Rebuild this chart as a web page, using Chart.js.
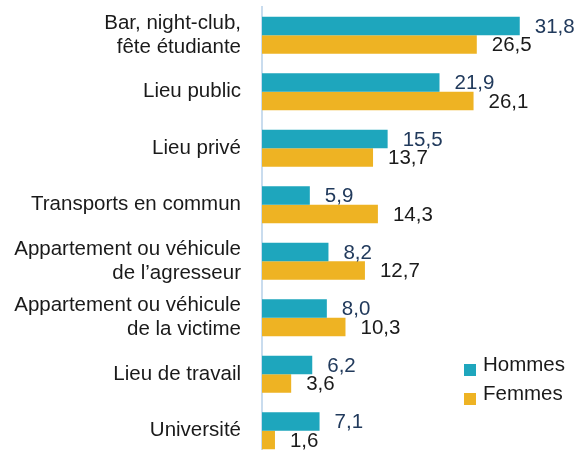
<!DOCTYPE html>
<html>
    <head>
        <title>Lieux</title>
        <meta charset="utf-8">
        <style>
            html, body { margin: 0; padding: 0; background: #fff; overflow: hidden; }
            .chart-box { position: relative; width: 579px; height: 460px; }
        </style>
    </head>
    <body>
        <div class="chart-box">
            <canvas id="lieuxChart"></canvas>
        </div>
        <script src="https://cdn.jsdelivr.net/npm/chart.js"></script>
        <script>
            const categories = [
                ['Bar, night-club,', 'fête étudiante'],
                'Lieu public',
                'Lieu privé',
                'Transports en commun',
                ['Appartement ou véhicule', 'de l’agresseur'],
                ['Appartement ou véhicule', 'de la victime'],
                'Lieu de travail',
                'Université'
            ];
            const hommes = [31.8, 21.9, 15.5, 5.9, 8.2, 8.0, 6.2, 7.1];
            const femmes = [26.5, 26.1, 13.7, 14.3, 12.7, 10.3, 3.6, 1.6];

            const FONT = "'Liberation Sans', Arial, sans-serif";

            // value labels at the end of each bar + legend in the lower right
            const labelsPlugin = {
                id: 'valueLabels',
                afterDatasetsDraw(chart) {
                    const ctx = chart.ctx;
                    const colors = ['#213a5c', '#1a1a1a'];
                    ctx.save();
                    ctx.font = '20.5px ' + FONT;
                    ctx.textBaseline = 'middle';
                    ctx.textAlign = 'left';
                    chart.data.datasets.forEach((ds, i) => {
                        const meta = chart.getDatasetMeta(i);
                        ctx.fillStyle = colors[i];
                        meta.data.forEach((bar, j) => {
                            const txt = ds.data[j].toFixed(1).replace('.', ',');
                            ctx.fillText(txt, bar.x + 15, bar.y + 1);
                        });
                    });

                    // legend
                    const lx = 464, ly = [365, 394];
                    chart.data.datasets.forEach((ds, i) => {
                        ctx.fillStyle = ds.backgroundColor;
                        ctx.fillRect(lx, ly[i] - 1, 12, 12);
                        ctx.fillStyle = '#1a1a1a';
                        ctx.fillText(ds.label, lx + 19, ly[i]);
                    });
                    ctx.restore();
                }
            };

            const chart = new Chart(document.getElementById('lieuxChart'), {
                type: 'bar',
                data: {
                    labels: categories,
                    datasets: [
                        { label: 'Hommes', data: hommes, backgroundColor: '#1ea6bd' },
                        { label: 'Femmes', data: femmes, backgroundColor: '#eeb323' }
                    ]
                },
                options: {
                    indexAxis: 'y',
                    responsive: true,
                    maintainAspectRatio: false,
                    animation: false,
                    layout: { padding: { top: 7, bottom: 1, right: 9, left: 0 } },
                    datasets: {
                        bar: { barPercentage: 1, categoryPercentage: 0.655 }
                    },
                    plugins: {
                        legend: { display: false },
                        tooltip: { enabled: false }
                    },
                    scales: {
                        x: { display: false, min: 0, max: 38 },
                        y: {
                            grid: { display: false, drawTicks: false },
                            border: { display: true, color: '#c9dcee', width: 2 },
                            ticks: {
                                color: '#1a1a1a',
                                padding: 21,
                                font: { family: FONT, size: 20.5, lineHeight: 1.17 }
                            },
                            afterFit(scale) {
                                scale.width = 262;
                                scale.paddingTop = 0;
                                scale.paddingBottom = 0;
                            }
                        }
                    }
                },
                plugins: [labelsPlugin]
            });
        </script>
    </body>
</html>
